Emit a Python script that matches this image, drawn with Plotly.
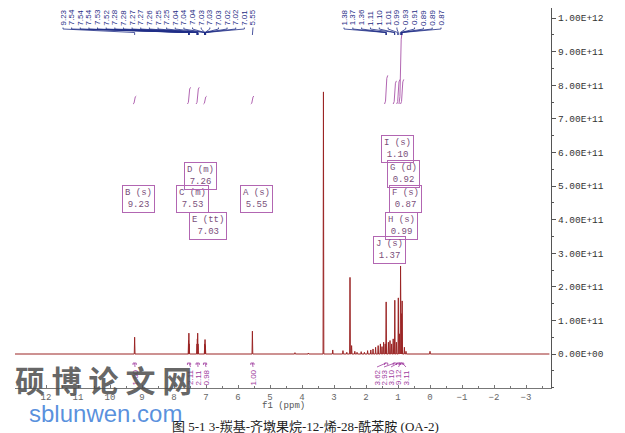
import plotly.graph_objects as go

# ---------------- data ----------------
# 1H NMR peaks: chemical shift (ppm) and intensity (units of 1e11)
peak_ppm = [9.23, 7.545, 7.535, 7.525, 7.28, 7.27, 7.26, 7.25, 7.04, 7.03, 7.02,
            5.55, 4.22, 3.80, 3.33, 3.04, 2.72, 2.60, 2.50, 2.45, 2.35, 2.28,
            2.15, 2.05, 1.95, 1.85, 1.78, 1.70, 1.62, 1.55, 1.50, 1.45, 1.40,
            1.37, 1.30, 1.25, 1.20, 1.15, 1.10, 1.05, 0.99, 0.95, 0.92, 0.89,
            0.87, 0.80, 0.75, 0.00]
peak_int = [0.50, 0.40, 0.62, 0.30, 0.30, 0.45, 0.62, 0.30, 0.30, 0.43, 0.25,
            0.68, 0.04, 0.03, 7.80, 0.12, 0.10, 0.05, 2.28, 0.25, 0.08, 0.05,
            0.07, 0.05, 0.10, 0.12, 0.15, 0.20, 0.25, 0.30, 0.22, 0.35, 0.30,
            1.55, 0.35, 0.40, 0.30, 0.45, 1.60, 0.35, 1.67, 0.60, 2.62, 1.20,
            1.58, 0.20, 0.08, 0.08]

# peak-pick labels (top)
pick_left = ["9.23", "7.54", "7.54", "7.54", "7.53", "7.52", "7.28", "7.28", "7.27",
             "7.27", "7.26", "7.25", "7.25", "7.04", "7.04", "7.04", "7.03", "7.03",
             "7.03", "7.02", "7.02", "7.01", "5.55"]
pick_right = ["1.38", "1.37", "1.36", "1.11", "1.10", "1.01", "0.99", "0.93",
              "0.91", "0.89", "0.89", "0.87"]

# integrals: centre ppm and integral value
integ_ppm = [9.23, 7.53, 7.26, 7.03, 5.55, 1.37, 1.10, 0.99, 0.92, 0.87]
integ_val = [1.00, 2.11, 2.11, 0.98, 1.00, 3.62, 2.93, 3.10, 9.12, 3.11]

# multiplet boxes
mult_label = ["B (s)", "C (m)", "D (m)", "E (tt)", "A (s)",
              "I (s)", "G (d)", "F (s)", "H (s)", "J (s)"]
mult_shift = ["9.23", "7.53", "7.26", "7.03", "5.55",
              "1.10", "0.92", "0.87", "0.99", "1.37"]

ytick_vals = [i * 1e11 for i in range(11)]
ytick_text = ["0.00E+00", "1.00E+11", "2.00E+11", "3.00E+11", "4.00E+11", "5.00E+11",
              "6.00E+11", "7.00E+11", "8.00E+11", "9.00E+11", "1.00E+12"]

caption = "图 5-1 3-羰基-齐墩果烷-12-烯-28-酰苯胺 (OA-2)"

# ---------------- layout helpers (page pixel -> data) ----------------
def ppm_at(px):
    return (430 - px) / 32.0

def val_at(py):
    return (354 - py) / 33.6 * 1e11

# page body has an 8px margin; figure is offset by (8, 8)
OFF = 8
PL, PR, PT, PB = 15, 551, 8, 388          # plot area in page pixels
FW, FH = 625 - OFF, 433 - OFF

def paper_x(px):
    return (px - PL) / (PR - PL)

def paper_y(py):
    return (PB - py) / (PB - PT)

X_LEFT, X_RIGHT = ppm_at(PL), ppm_at(PR)
Y_TOP, Y_BOT = val_at(PT), val_at(PB)

SPEC = "#9b2525"
NAVY = "#1f2d86"
PURP = "#b266b2"

fig = go.Figure()

# ---------------- spectrum ----------------
w = 0.012
order = sorted(range(len(peak_ppm)), key=lambda i: -peak_ppm[i])
sx, sy = [X_LEFT], [0.0]
for i in order:
    p, h = peak_ppm[i], peak_int[i] * 1e11
    sx += [p + w, p, p - w]
    sy += [0.0, h, 0.0]
sx.append(X_RIGHT + 0.05)
sy.append(0.0)
fig.add_trace(go.Scatter(x=sx, y=sy, mode="lines",
                         line=dict(color=SPEC, width=1), hoverinfo="skip"))

# ---------------- integral curves ----------------
base = val_at(104)
unit = 0.235e11
ix, iy = [], []
for p, v in zip(integ_ppm, integ_val):
    h = v * unit
    ix += [p + 0.05, p + 0.02, p - 0.02, p - 0.05, None]
    iy += [base, base + 0.1 * h, base + 0.9 * h, base + h, None]
fig.add_trace(go.Scatter(x=ix, y=iy, mode="lines",
                         line=dict(color=PURP, width=1), hoverinfo="skip"))

annotations = []

# integral value labels under the baseline
lab_px = [135, 190.5, 198, 206, 253, 377, 384, 391, 398.5, 406]
bx, by = [], []
for p, v, lp in zip(integ_ppm, integ_val, lab_px):
    lx = ppm_at(lp)
    bx += [p + 0.05, p + 0.05, p - 0.05, p - 0.05, None, p, lx, None]
    by += [val_at(365), val_at(363), val_at(363), val_at(365), None,
           val_at(363), val_at(367), None]
    annotations.append(dict(x=lx, y=val_at(367.5), xref="x", yref="y",
                            text=f"{v:.2f}", textangle=-90, showarrow=False,
                            xanchor="center", yanchor="top",
                            font=dict(family="Liberation Sans", size=8, color="#a03ca0")))
fig.add_trace(go.Scatter(x=bx, y=by, mode="lines", cliponaxis=False,
                         line=dict(color="#a03ca0", width=0.8), hoverinfo="skip"))

# ---------------- peak-pick labels and connectors ----------------
cx, cy = [], []
groups = [(pick_left, 63, 8.636), (pick_right, 344, 8.82)]
for labels, px0, step in groups:
    for k, t in enumerate(labels):
        lx = ppm_at(px0 + k * step)
        pk = float(t)
        cx += [lx, lx, pk, pk, None]
        cy += [val_at(27.5), val_at(29), val_at(32.5), val_at(35), None]
        annotations.append(dict(x=lx, y=val_at(27.5), xref="x", yref="y",
                                text=t, textangle=-90, showarrow=False,
                                xanchor="center", yanchor="bottom",
                                font=dict(family="Liberation Sans", size=8, color=NAVY)))
fig.add_trace(go.Scatter(x=cx, y=cy, mode="lines", cliponaxis=False,
                         line=dict(color=NAVY, width=0.8), hoverinfo="skip"))

# ---------------- multiplet boxes ----------------
box_pos = [(138, 199), (192, 199), (200, 176), (208, 226), (256, 199),
           (397, 149), (403, 174), (405, 199), (401, 226), (389, 250)]
for lbl, sh, (bxp, byp) in zip(mult_label, mult_shift, box_pos):
    annotations.append(dict(x=ppm_at(bxp), y=val_at(byp), xref="x", yref="y",
                            text=f"{lbl}<br>{sh}", showarrow=False, align="center",
                            xanchor="center", yanchor="middle",
                            font=dict(family="Liberation Mono", size=9, color="#7a4f7a"),
                            bordercolor=PURP, borderwidth=1, borderpad=2,
                            bgcolor="rgba(255,255,255,0)"))

# ---------------- axis title, caption, watermark ----------------
annotations.append(dict(x=paper_x(283), y=paper_y(406), xref="paper", yref="paper",
                        text="f1 (ppm)", showarrow=False, xanchor="center", yanchor="middle",
                        font=dict(family="Liberation Mono", size=9, color="#555")))
annotations.append(dict(x=paper_x(305), y=paper_y(426), xref="paper", yref="paper",
                        text=caption, showarrow=False, xanchor="center", yanchor="middle",
                        font=dict(family="Liberation Serif, Noto Sans CJK SC", size=13,
                                  color="#222")))
annotations.append(dict(x=paper_x(103), y=paper_y(379), xref="paper", yref="paper",
                        text="硕 博 论 文 网", showarrow=False, xanchor="center",
                        yanchor="middle",
                        font=dict(family="Noto Sans CJK SC", size=30, weight="bold",
                                  color="rgba(75,75,75,0.85)")))
annotations.append(dict(x=paper_x(105), y=paper_y(413), xref="paper", yref="paper",
                        text="sblunwen.com", showarrow=False, xanchor="center",
                        yanchor="middle",
                        font=dict(family="Liberation Sans", size=24,
                                  color="rgba(60,125,215,0.85)")))

fig.update_layout(
    width=FW, height=FH,
    margin=dict(l=PL - OFF, r=FW - (PR - OFF), t=PT - OFF, b=FH - (PB - OFF)),
    paper_bgcolor="white", plot_bgcolor="white",
    showlegend=False,
    annotations=annotations,
    xaxis=dict(range=[X_LEFT, X_RIGHT], showgrid=False, zeroline=False,
               showline=True, linecolor="#777", linewidth=1,
               tick0=0, dtick=1, ticks="inside", ticklen=3, tickcolor="#777",
               minor=dict(dtick=0.5, ticks="inside", ticklen=2, tickcolor="#777"),
               tickfont=dict(family="Liberation Mono", size=9, color="#666")),
    yaxis=dict(range=[Y_BOT, Y_TOP], side="right", showgrid=False, zeroline=False,
               showline=True, linecolor="#555", linewidth=1,
               tickvals=ytick_vals, ticktext=ytick_text,
               ticks="outside", ticklen=4, tickcolor="#555",
               minor=dict(dtick=5e10, ticks="outside", ticklen=2, tickcolor="#555"),
               tickfont=dict(family="Liberation Mono", size=9.5, color="#333")),
)

fig.write_html("out.html")
